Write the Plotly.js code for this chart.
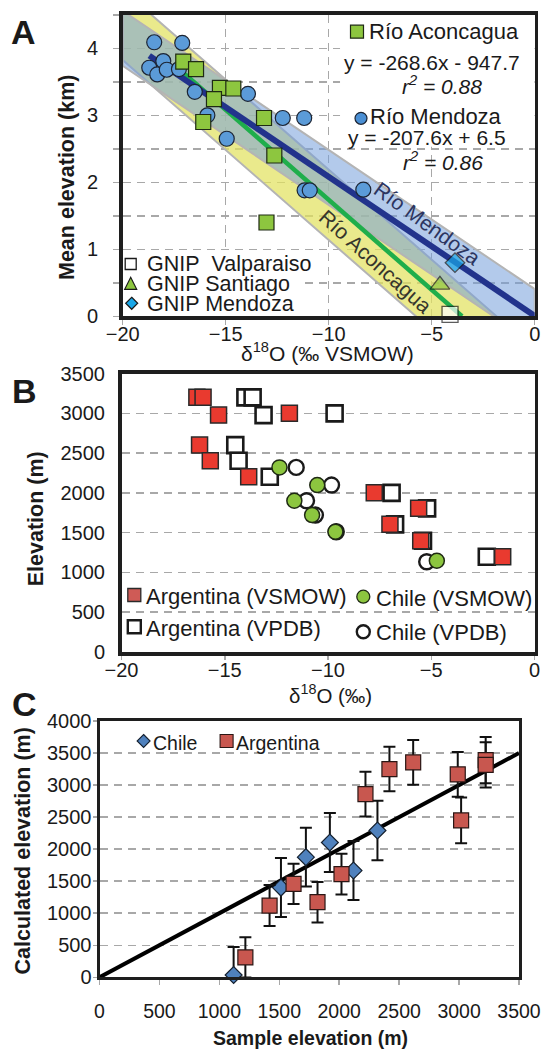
<!DOCTYPE html>
<html><head><meta charset="utf-8">
<script src="https://cdn.plot.ly/plotly-3.0.1.min.js"></script>
<style>html,body{margin:0;padding:0;background:#fff}#chart{width:541px;height:1049px}</style>
</head><body><div id="chart"></div>
<script>
// ---------- Panel A data (δ18O ‰ VSMOW, mean elevation km) ----------
const mendozaD18O   = [-18.47,-17.11,-18.71,-18.32,-18.03,-17.86,-17.27,-16.50,-13.92,-15.89,-14.95,-12.23,-11.19,-11.17,-10.92,-8.32];
const mendozaElevKm = [4.09, 4.08, 3.71, 3.61, 3.81, 3.68, 3.69, 3.35, 3.32, 3.00, 2.65, 2.96, 2.96, 1.88, 1.88, 1.89];
const aconD18O      = [-17.06,-16.44,-15.28,-14.63,-15.57,-16.09,-13.14,-12.64,-13.02];
const aconElevKm    = [3.80, 3.69, 3.41, 3.40, 3.24, 2.90, 2.96, 2.40, 1.40];
const gnipNames     = ['GNIP\u00a0 Valparaiso','GNIP Santiago','GNIP Mendoza'];
const gnipD18O      = [-4.11, -4.60, -3.87];
const gnipElevKm    = [0.03, 0.47, 0.80];
const aconSlope = -268.6, aconIntercept = -947.7;   // m per ‰, m
const mendSlope = -207.6, mendIntercept = 6.5;
const aconBandKm = [0.45, 0.60];   // above, below the fit
const mendBandKm = [0.40, 0.42];
const xRangeA = [-20, 0];
const yTickValsA = [0, 1, 2, 3, 4];
const yTickTextA = ['0', '1', '2', '3', '4'];

// ---------- Panel B data (δ18O ‰, elevation m) ----------
const argVsmowD18O = [-16.35,-16.05,-15.30,-11.87,-16.22,-15.70,-13.84,-7.76,-7.00,-5.61,-5.51,-1.54];
const argVsmowElev = [3200, 3200, 2977, 2999, 2600, 2404, 2203, 2000, 1604, 1805, 1398, 1197];
const argVpdbD18O  = [-14.00,-13.65,-13.12,-9.68,-14.49,-14.33,-12.82,-6.92,-6.75,-5.20,-5.40,-2.31];
const argVpdbElev  = [3200, 3200, 2977, 2999, 2600, 2404, 2203, 2000, 1604, 1805, 1398, 1197];
const chiVsmowD18O = [-12.35,-10.52,-11.63,-10.77,-9.64,-4.73];
const chiVsmowElev = [2320, 2098, 1901, 1721, 1511, 1147];
const chiVpdbD18O  = [-11.54,-9.83,-11.04,-10.61,-9.60,-5.22];
const chiVpdbElev  = [2320, 2098, 1901, 1721, 1511, 1134];

// ---------- Panel C data (sample vs calculated elevation, m) ----------
const chiSampleElev = [1119, 1514, 1722, 1922, 2119, 2319];
const chiCalcElev   = [36, 1400, 1875, 2104, 1666, 2291];
const chiCalcErr    = [435, 460, 459, 459, 461, 466];
const argSampleElev = [1217, 1419, 1619, 1819, 2019, 2219, 2419, 2617, 2989, 3017, 3222, 3222];
const argCalcElev   = [310, 1119, 1458, 1172, 1609, 2859, 3250, 3354, 3166, 2448, 3390, 3315];
const argCalcErr    = [315, 320, 315, 315, 318, 350, 347, 349, 350, 357, 360, 352];
const oneToOne      = [0, 3500];

// ---------- helpers ----------
const W = 541, H = 1049;
const PX = v => v / W, PY = v => 1 - v / H;
const FONT = 'Liberation Sans, Arial, Helvetica, sans-serif';
const INK = '#1a1a1a';
const fitKm = (s, b) => d => (s * d + b) / 1000;
const aconFit = fitKm(aconSlope, aconIntercept), mendFit = fitKm(mendSlope, mendIntercept);
function band(fn, up, lo) {
  const x = [xRangeA[0], xRangeA[1], xRangeA[1], xRangeA[0], xRangeA[0]];
  const y = [fn(x[0]) + up, fn(x[1]) + up, fn(x[2]) - lo, fn(x[3]) - lo, fn(x[4]) + up];
  return {x, y};
}
const yb = band(aconFit, aconBandKm[0], aconBandKm[1]);
const bb = band(mendFit, mendBandKm[0], mendBandKm[1]);
const aconLineX = [Math.min(...aconD18O), -aconIntercept / aconSlope];
const mendLineX = [Math.min(...mendozaD18O), 0];

const traces = [
  {x: yb.x, y: yb.y, mode: 'lines', fill: 'toself', fillcolor: 'rgba(226,226,96,0.72)',
   line: {color: '#b4b4b4', width: 2}, xaxis: 'x', yaxis: 'y', hoverinfo: 'skip'},
  {x: bb.x, y: bb.y, mode: 'lines', fill: 'toself', fillcolor: 'rgba(116,158,218,0.55)',
   line: {color: '#b4b4b4', width: 2}, xaxis: 'x', yaxis: 'y', hoverinfo: 'skip'},
  {x: aconLineX, y: aconLineX.map(aconFit), mode: 'lines', line: {color: '#1fae4b', width: 4.5}, xaxis: 'x', yaxis: 'y'},
  {x: mendLineX, y: mendLineX.map(mendFit), mode: 'lines', line: {color: '#22338c', width: 6}, xaxis: 'x', yaxis: 'y'},
  {x: mendozaD18O, y: mendozaElevKm, mode: 'markers', name: 'Río Mendoza', cliponaxis: false,
   marker: {symbol: 'circle', size: 15, color: '#5b9bd8', line: {color: '#1c2433', width: 1.2}}, xaxis: 'x', yaxis: 'y'},
  {x: aconD18O, y: aconElevKm, mode: 'markers', name: 'Río Aconcagua', cliponaxis: false,
   marker: {symbol: 'square', size: 15, color: '#8dc63f', line: {color: '#1f2a14', width: 1.2}}, xaxis: 'x', yaxis: 'y'},
  {x: gnipD18O, y: gnipElevKm, mode: 'markers', text: gnipNames, cliponaxis: false,
   marker: {symbol: ['square', 'triangle-up', 'diamond'], size: [16, 17, 15],
            color: ['#ffffff', '#8dc63f', '#1aa7e8'], line: {color: '#1a1a1a', width: 1.3}}, xaxis: 'x', yaxis: 'y'},

  // Panel B
  {x: argVpdbD18O, y: argVpdbElev, mode: 'markers', name: 'Argentina (VPDB)', cliponaxis: false,
   marker: {symbol: 'square', size: 16, color: '#ffffff', line: {color: '#1a1a1a', width: 2.6}}, xaxis: 'x2', yaxis: 'y2'},
  {x: chiVpdbD18O, y: chiVpdbElev, mode: 'markers', name: 'Chile (VPDB)', cliponaxis: false,
   marker: {symbol: 'circle', size: 15, color: '#ffffff', line: {color: '#1a1a1a', width: 2.4}}, xaxis: 'x2', yaxis: 'y2'},
  {x: argVsmowD18O, y: argVsmowElev, mode: 'markers', name: 'Argentina (VSMOW)', cliponaxis: false,
   marker: {symbol: 'square', size: 16, color: '#e93a2f', line: {color: '#2a2a2a', width: 1.5}}, xaxis: 'x2', yaxis: 'y2'},
  {x: chiVsmowD18O, y: chiVsmowElev, mode: 'markers', name: 'Chile (VSMOW)', cliponaxis: false,
   marker: {symbol: 'circle', size: 15, color: '#8cc63f', line: {color: '#1f2a14', width: 1.5}}, xaxis: 'x2', yaxis: 'y2'},

  // Panel C
  {x: oneToOne, y: oneToOne, mode: 'lines', line: {color: '#000', width: 4}, xaxis: 'x3', yaxis: 'y3'},
  {x: chiSampleElev, y: chiCalcElev, mode: 'markers', name: 'Chile', cliponaxis: false,
   error_y: {type: 'data', array: chiCalcErr, visible: true, color: '#111', thickness: 2, width: 6},
   marker: {symbol: 'diamond', size: 13, color: '#4f81bd', line: {color: '#15202e', width: 1.2}}, xaxis: 'x3', yaxis: 'y3'},
  {x: argSampleElev, y: argCalcElev, mode: 'markers', name: 'Argentina', cliponaxis: false,
   error_y: {type: 'data', array: argCalcErr, visible: true, color: '#111', thickness: 2, width: 6},
   marker: {symbol: 'square', size: 15, color: '#c8574f', line: {color: '#2a1614', width: 1.2}}, xaxis: 'x3', yaxis: 'y3'}
];

const GRID = '#a8a8a8';
const baseAxis = {
  showline: true, linecolor: '#1e1e1e', mirror: true, zeroline: false, automargin: false, ticklabeloverflow: 'allow',
  tickfont: {family: FONT, size: 20, color: INK}, fixedrange: true, gridwidth: 1.5, griddash: '8px,6px', gridcolor: GRID,
  tickcolor: GRID, tickwidth: 1.5
};
const layout = {
  width: W, height: H, margin: {l: 0, r: 0, t: 0, b: 0}, showlegend: false,
  paper_bgcolor: '#ffffff', plot_bgcolor: '#ffffff', font: {family: FONT, color: INK},
  xaxis: Object.assign({}, baseAxis, {domain: [122.7 / W, 534.7 / W], range: xRangeA, dtick: 5, tick0: -20,
    showgrid: true, ticks: 'outside', ticklen: 5, linewidth: 3.5, anchor: 'y', ticklabelstandoff: -8}),
  yaxis: Object.assign({}, baseAxis, {domain: [PY(316.3), PY(14.8)], range: [0, 4.5], tickmode: 'array',
    tickvals: yTickValsA, ticktext: yTickTextA, showgrid: true, ticks: 'outside', ticklen: 6, linewidth: 3.5,
    anchor: 'x', ticklabelstandoff: 11,
    minor: {dtick: 0.5, tick0: 0, ticks: 'outside', ticklen: 6, tickcolor: GRID, tickwidth: 1.5,
            showgrid: true, gridcolor: GRID, griddash: '8px,6px', gridwidth: 1.5}}),
  xaxis2: Object.assign({}, baseAxis, {domain: [121.5 / W, 534.5 / W], range: [-20, 0], dtick: 5, tick0: -20,
    showgrid: false, ticks: 'outside', ticklen: 4, linewidth: 3.5, anchor: 'y2', ticklabelstandoff: -7}),
  yaxis2: Object.assign({}, baseAxis, {domain: [PY(652), PY(373.5)], range: [0, 3500], dtick: 500,
    showgrid: true, ticks: '', linewidth: 3.5, anchor: 'x2', ticklabelstandoff: 9}),
  xaxis3: Object.assign({}, baseAxis, {domain: [99.5 / W, 519 / W], range: [0, 3500], dtick: 500,
    tickfont: {family: FONT, size: 19.5, color: INK},
    showgrid: false, ticks: 'outside', ticklen: 5, linewidth: 3, anchor: 'y3', ticklabelstandoff: 9}),
  yaxis3: Object.assign({}, baseAxis, {domain: [PY(977.3), PY(721)], range: [0, 4000], dtick: 500,
    showgrid: true, ticks: 'outside', ticklen: 4, linewidth: 3, anchor: 'x3', ticklabelstandoff: -3}),
  shapes: [], annotations: []
};

// white text boxes in panel A (hide the grid behind the key text)
layout.shapes.push({type: 'rect', xref: 'x', yref: 'y', layer: 'between', x0: -9.45, x1: 0, y0: 2.53, y1: 4.5,
  fillcolor: '#ffffff', line: {width: 0}});
layout.shapes.push({type: 'rect', xref: 'x', yref: 'y', layer: 'between', x0: -20, x1: -11.4, y0: 0, y1: 0.95,
  fillcolor: '#ffffff', line: {width: 0}});

// key swatches
function sq(cx, cy, s, fill, lc, lw) {
  layout.shapes.push({type: 'rect', xref: 'paper', yref: 'paper', x0: PX(cx - s / 2), x1: PX(cx + s / 2),
    y0: PY(cy + s / 2), y1: PY(cy - s / 2), fillcolor: fill, line: {color: lc, width: lw}});
}
function ci(cx, cy, s, fill, lc, lw) {
  layout.shapes.push({type: 'circle', xref: 'paper', yref: 'paper', x0: PX(cx - s / 2), x1: PX(cx + s / 2),
    y0: PY(cy + s / 2), y1: PY(cy - s / 2), fillcolor: fill, line: {color: lc, width: lw}});
}
function pathShape(pts, fill, lc, lw) {
  const d = pts.map((p, i) => (i ? 'L' : 'M') + PX(p[0]).toFixed(5) + ',' + PY(p[1]).toFixed(5)).join(' ') + ' Z';
  layout.shapes.push({type: 'path', xref: 'paper', yref: 'paper', path: d, fillcolor: fill, line: {color: lc, width: lw}});
}
sq(357, 31.7, 13, '#8dc63f', '#1f2a14', 1.2);
ci(361, 118.3, 12, '#4a8fd4', '#1c2433', 1.2);
sq(130.7, 264, 11, '#ffffff', '#1a1a1a', 1.3);
pathShape([[124.7, 289.3], [136.7, 289.3], [130.7, 277.3]], '#8dc63f', '#1a1a1a', 1.2);
pathShape([[131.7, 297.3], [137.7, 303.3], [131.7, 309.3], [125.7, 303.3]], '#1aa7e8', '#1a1a1a', 1.2);
sq(134.3, 595, 13, '#cf5b56', '#2a2a2a', 1.3);
ci(363.3, 596.7, 13, '#8cc63f', '#1f2a14', 1.3);
sq(134.3, 626.7, 13, '#ffffff', '#1a1a1a', 2.4);
ci(363.3, 631.7, 13, '#ffffff', '#1a1a1a', 2.4);
pathShape([[143.6, 734.5], [150.1, 741], [143.6, 747.5], [137.1, 741]], '#4f81bd', '#15202e', 1.1);
sq(226.6, 741, 13, '#c8574f', '#2a1614', 1.1);

function txt(text, x, y, size, opts) {
  layout.annotations.push(Object.assign({text: text, xref: 'paper', yref: 'paper', x: PX(x), y: PY(y),
    xanchor: 'left', yanchor: 'middle', showarrow: false, font: {family: FONT, size: size, color: INK}}, opts || {}));
}
// panel A key
txt('Río Aconcagua', 367, 31.5, 22);
txt('y = -268.6x - 947.7', 342, 63, 21);
txt('<i>r<sup>2</sup> = 0.88</i>', 442, 85.5, 21, {xanchor: 'center'});
txt('Río Mendoza', 368, 117, 22);
txt('y = -207.6x + 6.5', 346, 138, 21);
txt('<i>r<sup>2</sup> = 0.86</i>', 443, 160.5, 21, {xanchor: 'center'});
txt(gnipNames[0], 145, 264, 21.5);
txt(gnipNames[1], 145, 283.5, 21.5);
txt(gnipNames[2], 145, 303.5, 21.5);
// band labels
layout.annotations.push({text: 'Río Mendoza', xref: 'x', yref: 'y', x: -5.2, y: 1.39, textangle: 36,
  showarrow: false, font: {family: FONT, size: 21, color: '#2c3560'}});
layout.annotations.push({text: 'Río Aconcagua', xref: 'x', yref: 'y', x: -7.73, y: 0.815, textangle: 42,
  showarrow: false, font: {family: FONT, size: 21, color: '#36362c'}});
// panel B key
txt('Argentina (VSMOW)', 144, 596, 22);
txt('Chile (VSMOW)', 373.5, 598, 22);
txt('Argentina (VPDB)', 144, 628.5, 22);
txt('Chile (VPDB)', 373.5, 632, 22);
// panel C key
txt('Chile', 151, 742.5, 19.5);
txt('Argentina', 234, 742.5, 19.5);
// panel letters
txt('<b>A</b>', 23, 32, 34, {xanchor: 'center'});
txt('<b>B</b>', 24, 391, 34, {xanchor: 'center'});
txt('<b>C</b>', 24, 704, 34, {xanchor: 'center'});
// axis titles
txt('<b>Mean elevation (km)</b>', 66.5, 177.5, 21.5, {xanchor: 'center', textangle: -90});
txt('δ<sup>18</sup>O (‰ VSMOW)', 327.5, 352, 21, {xanchor: 'center'});
txt('<b>Elevation (m)</b>', 36.3, 519, 21.5, {xanchor: 'center', textangle: -90});
txt('δ<sup>18</sup>O (‰)', 330, 694, 20.5, {xanchor: 'center'});
txt('<b>Calculated elevation (m)</b>', 22.5, 851, 21.5, {xanchor: 'center', textangle: -90});
txt('<b>Sample elevation (m)</b>', 310, 1038, 19.5, {xanchor: 'center'});

Plotly.newPlot('chart', traces, layout, {staticPlot: true, displayModeBar: false}).then(function (gd) {
  // drop Plotly's empty placeholder text nodes (they draw nothing)
  gd.querySelectorAll('text').forEach(function (t) { if (!t.textContent.trim()) t.remove(); });
});
</script>
</body></html>
